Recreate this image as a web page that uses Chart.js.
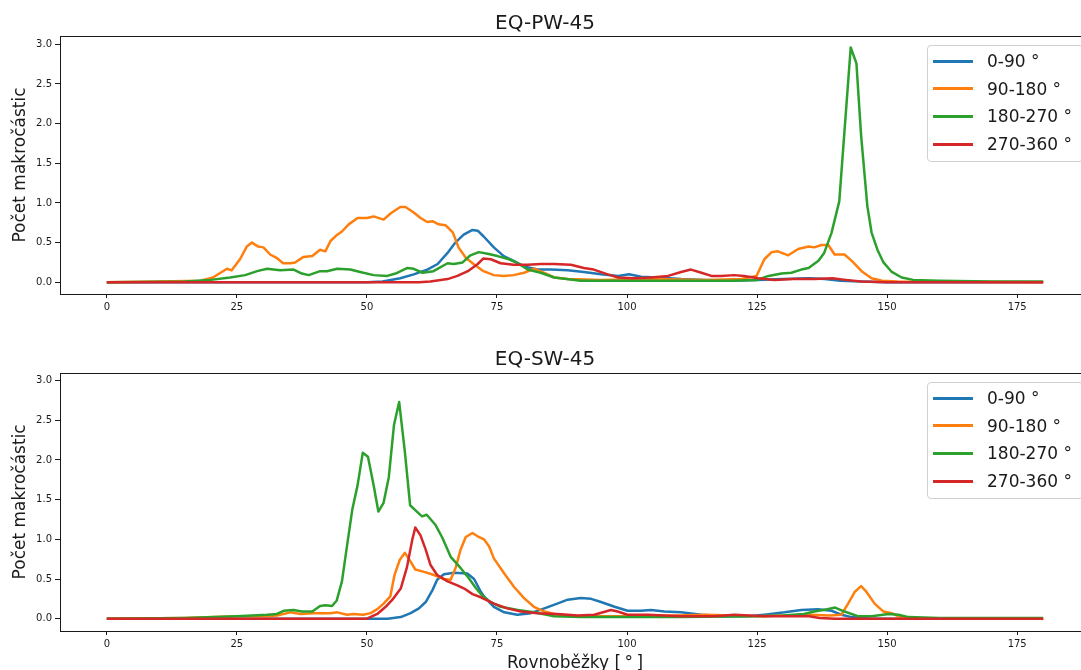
<!DOCTYPE html>
<html>
<head>
<meta charset="utf-8">
<script src="https://cdn.jsdelivr.net/npm/chart.js@4.4.1/dist/chart.umd.min.js"></script>
<style>
  html, body { margin: 0; padding: 0; background: #fff; overflow: hidden; width: 1081px; height: 670px; }
  canvas { position: absolute; left: 0; }
  .legend { position: absolute; left: 927px; width: 156px; height: 117px; box-sizing: border-box;
            border: 1px solid #d0d0d0; border-radius: 4px; background: rgba(255,255,255,0.85);
            font: 17px "DejaVu Sans"; color: #1a1a1a; }
  .legend .line { position: absolute; left: 5px; width: 40px; height: 3px; }
  .legend .text { position: absolute; left: 59px; line-height: 20px; white-space: nowrap; }
</style>
</head>
<body>
<canvas id="pw" width="1100" height="330" style="top:0"></canvas>
<canvas id="sw" width="1100" height="344" style="top:330px"></canvas>
<script>
const xTicks = [0, 25, 50, 75, 100, 125, 150, 175];
const yTicks = [0, 0.5, 1, 1.5, 2, 2.5, 3];
const seriesLabels = ["0-90 °", "90-180 °", "180-270 °", "270-360 °"];
const seriesColors = ["#1f77b4", "#ff7f0e", "#2ca02c", "#d62728"];

// EQ-PW-45, [rovnobezka, pocet]
const pwBlue = [[0,0],[50,0],[53,0.01],[56.4,0.05],[59,0.10],[61.6,0.16],[63.6,0.23],[65.5,0.37],[67,0.50],[68.6,0.60],
  [70.3,0.66],[71.3,0.65],[72.4,0.58],[74.4,0.44],[76.3,0.33],[78.2,0.27],[80.2,0.20],[82.8,0.16],[85.4,0.16],[88.6,0.15],
  [91.7,0.13],[95,0.10],[98.3,0.08],[100.4,0.10],[102.7,0.07],[106,0.06],[110.4,0.04],[115,0.03],[120,0.02],[125,0.03],
  [130,0.04],[135,0.05],[138,0.04],[141,0.02],[145,0.01],[150,0],[180,0]];
const pwOrange = [[0,0],[10,0.01],[18,0.02],[20.4,0.06],[23.1,0.17],[24,0.15],[25.6,0.29],[26.9,0.45],[27.9,0.50],[29.1,0.45],
  [30.1,0.44],[31.4,0.35],[32.8,0.30],[33.9,0.24],[35.3,0.24],[36.2,0.25],[37.8,0.32],[39.5,0.33],[41,0.41],[42,0.39],
  [43,0.52],[44.3,0.60],[45.2,0.64],[46.5,0.73],[48.2,0.81],[50,0.81],[51.3,0.83],[53.2,0.79],[54.6,0.87],[56.4,0.95],
  [57.4,0.95],[59,0.88],[60.3,0.81],[61.6,0.76],[62.6,0.77],[63.8,0.73],[65.1,0.72],[66.5,0.63],[67.6,0.44],[69,0.31],
  [70.5,0.23],[72.4,0.14],[74.4,0.09],[76.3,0.08],[78.2,0.09],[80.2,0.12],[82.1,0.17],[84,0.12],[86,0.06],[88.6,0.04],
  [95,0.03],[105,0.04],[115,0.03],[122,0.04],[124.9,0.08],[126.4,0.29],[127.8,0.38],[129,0.39],[131,0.34],[132.9,0.42],
  [134.9,0.45],[136,0.44],[137.4,0.47],[138.7,0.47],[139.9,0.35],[141.8,0.35],[143.2,0.27],[145.1,0.14],[147,0.05],
  [149,0.02],[152,0.01],[180,0]];
const pwGreen = [[0,0],[15,0.01],[20,0.03],[23.7,0.06],[26.6,0.09],[28.9,0.14],[30.8,0.17],[33.3,0.15],[35.9,0.16],[37.5,0.11],
  [38.8,0.09],[41,0.14],[42.3,0.14],[44.3,0.17],[46.8,0.16],[48.7,0.13],[51.3,0.09],[53.9,0.08],[55.5,0.11],[57.8,0.18],
  [59,0.17],[60.7,0.12],[62.8,0.14],[65.5,0.24],[66.7,0.23],[68.4,0.25],[69.9,0.34],[71.5,0.38],[73.2,0.36],[75.1,0.33],
  [77.3,0.29],[79,0.24],[80.9,0.16],[83.4,0.12],[86,0.06],[91.1,0.02],[100,0.02],[110,0.02],[120,0.02],[125,0.03],
  [127.2,0.08],[129.7,0.11],[131.6,0.12],[133.5,0.16],[134.9,0.18],[136.8,0.27],[137.9,0.37],[139.3,0.62],[140.8,1.02],
  [143,2.96],[144.1,2.76],[145,1.85],[146.2,0.96],[147,0.63],[148.2,0.40],[149.3,0.25],[150.9,0.13],[152.8,0.06],
  [155,0.03],[160,0.02],[170,0.01],[180,0.01]];
const pwRed = [[0,0],[60,0],[62.2,0.01],[65.5,0.04],[67.4,0.08],[69.4,0.14],[71.3,0.23],[72.4,0.30],[73.8,0.29],[75.7,0.24],
  [78.2,0.22],[80.9,0.22],[83.4,0.23],[86,0.23],[89.2,0.22],[91.7,0.18],[93.6,0.16],[96.3,0.10],[98.3,0.06],[101.3,0.05],
  [104.6,0.06],[107.9,0.08],[110.4,0.13],[112.3,0.16],[114.3,0.12],[116.2,0.08],[118.1,0.08],[120.6,0.09],[122.5,0.08],
  [125.2,0.05],[128.3,0.03],[132,0.04],[136,0.04],[139.5,0.05],[142,0.03],[145,0.01],[150,0],[180,0]];

// EQ-SW-45
const swBlue = [[0,0],[54,0],[56.5,0.02],[58.4,0.07],[60,0.13],[61.3,0.21],[62.6,0.36],[63.5,0.49],[64.8,0.56],[66.7,0.58],
  [69.3,0.57],[70.6,0.50],[71.9,0.34],[72.5,0.28],[74.4,0.15],[76.4,0.08],[78.9,0.05],[81.5,0.07],[84.1,0.13],[86.6,0.19],
  [88.6,0.24],[91.1,0.26],[93.1,0.25],[95,0.21],[97.6,0.15],[100.1,0.10],[102.7,0.10],[104.6,0.11],[107.2,0.09],
  [110.4,0.08],[114.3,0.05],[118.1,0.03],[123.3,0.03],[126.4,0.05],[130.3,0.08],[133.5,0.11],[136.7,0.12],[139.3,0.10],
  [141.2,0.05],[143.2,0.02],[147,0],[180,0]];
const swOrange = [[0,0],[15,0.01],[25,0.03],[30,0.03],[32.7,0.04],[35.3,0.08],[37.2,0.06],[39.7,0.07],[43,0.07],[44.3,0.08],
  [46.2,0.05],[47.4,0.06],[49.3,0.05],[50.7,0.07],[52,0.12],[53.2,0.19],[54.5,0.28],[55.3,0.55],[56.3,0.74],[57.3,0.83],
  [58.4,0.72],[59.3,0.62],[61,0.59],[62.9,0.55],[64.8,0.50],[66.1,0.49],[67.1,0.65],[68,0.87],[69,1.03],[70.3,1.08],
  [71.5,1.03],[72.5,1.00],[73.5,0.91],[74.4,0.76],[76.4,0.57],[78.3,0.40],[80.2,0.26],[82.1,0.15],[84.1,0.09],[86.6,0.05],
  [90,0.03],[100,0.03],[110,0.04],[115,0.05],[120,0.04],[125,0.03],[130,0.04],[135,0.05],[139,0.04],[141.2,0.05],
  [142.5,0.19],[143.8,0.34],[145,0.41],[146,0.34],[147.6,0.19],[149.3,0.09],[150.9,0.07],[152.2,0.03],[154,0.01],
  [160,0],[180,0]];
const swGreen = [[0,0],[15,0.01],[25,0.03],[30.8,0.05],[32.7,0.06],[34,0.10],[35.9,0.11],[37.5,0.09],[39.5,0.09],[41,0.16],
  [42,0.17],[43.3,0.16],[44.2,0.23],[45.2,0.47],[46.2,0.93],[47.2,1.38],[48.2,1.68],[49.2,2.09],[50.2,2.04],[51.3,1.68],
  [52.2,1.35],[53.2,1.46],[54.2,1.78],[55.2,2.44],[56.2,2.73],[57.3,2.10],[58.3,1.43],[59.6,1.35],[60.6,1.29],[61.5,1.31],
  [63.2,1.18],[64.5,1.02],[66.1,0.78],[68,0.64],[69.6,0.51],[70.9,0.39],[72.3,0.28],[73.8,0.21],[75.7,0.15],[79,0.11],
  [82.1,0.08],[86,0.03],[91.1,0.02],[110,0.02],[125,0.03],[130,0.04],[134,0.06],[136,0.09],[138.5,0.12],[140,0.14],
  [141.8,0.09],[144.5,0.03],[147,0.03],[150.3,0.06],[152.2,0.05],[154.1,0.02],[160,0.01],[180,0.01]];
const swRed = [[0,0],[50,0],[52,0.06],[53.6,0.15],[54.9,0.24],[56.5,0.38],[57.7,0.65],[58.7,0.99],[59.3,1.15],[60.3,1.05],
  [61.3,0.87],[62.2,0.68],[63.5,0.55],[65.5,0.47],[67.4,0.42],[68.7,0.38],[70.3,0.31],[71.9,0.27],[74.4,0.19],[77,0.13],
  [79.6,0.09],[82.8,0.07],[86.6,0.06],[90.5,0.04],[93.7,0.05],[96.9,0.11],[98.2,0.09],[100.1,0.05],[104,0.05],
  [110.4,0.03],[116.8,0.03],[120.6,0.05],[126.4,0.03],[132,0.03],[135,0.03],[137,0.01],[140,0],[180,0]];

const FONT = "DejaVu Sans";
const ink = "#1a1a1a";

// ram kolem celeho grafu jako v matplotlibu
const frame = {
  id: "frame",
  afterDraw(chart) {
    const { ctx, chartArea: a } = chart;
    ctx.save();
    ctx.strokeStyle = ink;
    ctx.lineWidth = 1;
    ctx.strokeRect(Math.round(a.left) + 0.5, Math.round(a.top) + 0.5,
      Math.round(a.right - a.left), Math.round(a.bottom - a.top));
    ctx.restore();
  }
};

function makeChart(id, title, series, cfg) {
  const datasets = series.map((s, i) => ({
    label: seriesLabels[i],
    data: s.map(([x, y]) => ({ x, y })),
    borderColor: seriesColors[i],
    borderWidth: 2.5,
    pointRadius: 0,
    fill: false,
    tension: 0,
    borderJoinStyle: "round",
    order: 4 - i
  }));

  return new Chart(document.getElementById(id), {
    type: "line",
    data: { datasets },
    plugins: [frame],
    options: {
      responsive: false,
      animation: false,
      events: [],
      layout: { padding: { left: 0, right: 10, top: 0, bottom: 0 } },
      plugins: {
        legend: { display: false },
        tooltip: { enabled: false },
        title: {
          display: true, text: title, color: ink,
          font: { family: FONT, size: 20, weight: "normal", lineHeight: 1.2 },
          padding: cfg.titlePad
        }
      },
      scales: {
        x: {
          type: "linear", min: -9, max: 189,
          afterBuildTicks: s => { s.ticks = xTicks.map(v => ({ value: v })); },
          afterFit: s => { s.height = cfg.xHeight; },
          grid: { drawOnChartArea: false, drawTicks: true, tickLength: 4, color: ink },
          border: { display: false },
          ticks: { font: { family: FONT, size: 10 }, color: ink, padding: 3, maxRotation: 0, autoSkip: false,
                   callback: v => String(v) },
          title: { display: cfg.xTitle, text: "Rovnoběžky [\u2009°\u2009]", color: ink,
                   font: { family: FONT, size: 17, lineHeight: 1.2 }, padding: { top: 0, bottom: 0 } }
        },
        y: {
          type: "linear", min: cfg.yMin, max: cfg.yMax,
          afterBuildTicks: s => { s.ticks = yTicks.map(v => ({ value: v })); },
          afterFit: s => { s.width = 60; },
          grid: { drawOnChartArea: false, drawTicks: true, tickLength: 5, color: ink },
          border: { display: false },
          ticks: { font: { family: FONT, size: 10 }, color: ink, padding: 3, callback: v => v.toFixed(1) },
          title: { display: true, text: "Počet makročástic", color: ink,
                   font: { family: FONT, size: 17, lineHeight: 1.2 }, padding: { top: 10, bottom: 0 } }
        }
      }
    }
  });
}

function addLegend(top) {
  const box = document.createElement("div");
  box.className = "legend";
  box.style.top = top + "px";
  seriesLabels.forEach((label, i) => {
    const y = 15 + i * 27.7;
    const line = document.createElement("div");
    line.className = "line";
    line.style.top = (y - 1.5) + "px";
    line.style.background = seriesColors[i];
    const text = document.createElement("div");
    text.className = "text";
    text.style.top = (y - 10) + "px";
    text.textContent = label;
    box.appendChild(line);
    box.appendChild(text);
  });
  document.body.appendChild(box);
}

makeChart("pw", "EQ-PW-45", [pwBlue, pwOrange, pwGreen, pwRed],
  { titlePad: { top: 12, bottom: 0 }, xHeight: 36, xTitle: false, yMin: -0.148, yMax: 3.105 });
makeChart("sw", "EQ-SW-45", [swBlue, swOrange, swGreen, swRed],
  { titlePad: { top: 18, bottom: 0.7 }, xHeight: 43, xTitle: true, yMin: -0.155, yMax: 3.10 });

addLegend(45);
addLegend(382);
</script>
</body>
</html>
